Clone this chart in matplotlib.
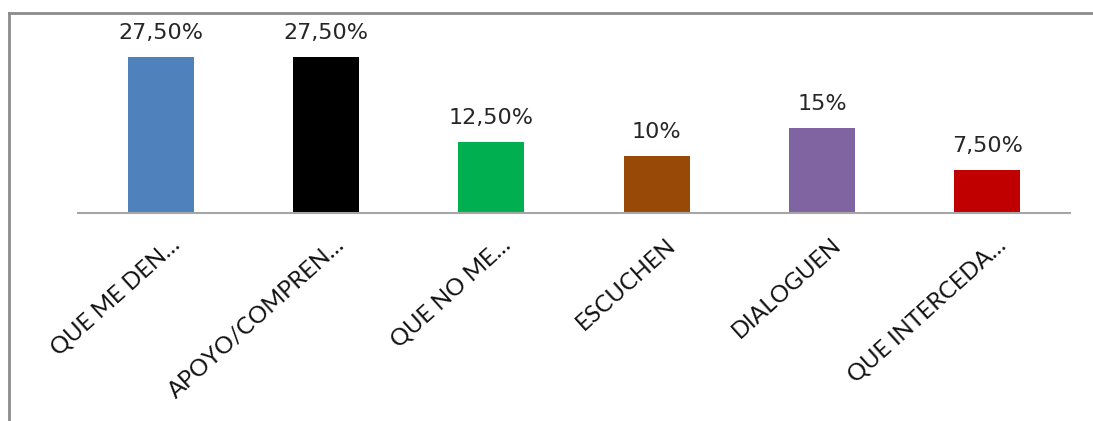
import matplotlib
matplotlib.use("Agg")
from matplotlib import pyplot as plt
from matplotlib import transforms
from matplotlib.lines import Line2D

categorias = ['QUE ME DEN…', 'APOYO/COMPREN…', 'QUE NO ME…', 'ESCUCHEN', 'DIALOGUEN', 'QUE INTERCEDA…']
valores = [27.5, 27.5, 12.5, 10, 15, 7.5]
colores = ['#4F81BD', '#000000', '#00B050', '#984807', '#8064A2', '#C00000']


def etiqueta(v):
    # formato tipo Excel con coma decimal
    if v == int(v):
        return '{}%'.format(int(v))
    return '{:.2f}%'.format(v).replace('.', ',')


fig = plt.figure(figsize=(10.93, 4.21), dpi=100)
W, H = 1093, 421
ax = fig.add_axes([78 / W, (H - 212.7) / H, (1070 - 78) / W, (212.7 - 42.8) / H])

x = list(range(len(categorias)))
barras = ax.bar(x, valores, width=0.4, color=colores)
ax.bar_label(barras, labels=[etiqueta(v) for v in valores], padding=10,
             fontsize=16, color='#262626', family='DejaVu Sans')

ax.set_xlim(-0.5, len(categorias) - 0.5)
ax.set_ylim(0, 30)
ax.set_yticks([])
for s in ['top', 'right', 'left']:
    ax.spines[s].set_visible(False)
ax.spines['bottom'].set_color('#A6A6A6')
ax.spines['bottom'].set_linewidth(1.5)

ax.set_xticks(x)
ax.set_xticklabels(categorias, rotation=42, ha='right', va='baseline',
                   rotation_mode='anchor', fontsize=17, family='Lato', color='#111111')
ax.tick_params(axis='x', length=0, pad=0)
desplaza = transforms.ScaledTranslation(0.2, -0.34, fig.dpi_scale_trans)
for lab in ax.get_xticklabels():
    lab.set_transform(lab.get_transform() + desplaza)

# marco exterior (solo lados visibles)
fig.add_artist(Line2D([8.5 / W, 8.5 / W], [0, (H - 13) / H], color='#8C8C8C', lw=2))
fig.add_artist(Line2D([8.5 / W, 1], [(H - 13) / H, (H - 13) / H], color='#8C8C8C', lw=2))

plt.savefig('out.png', dpi=100)
